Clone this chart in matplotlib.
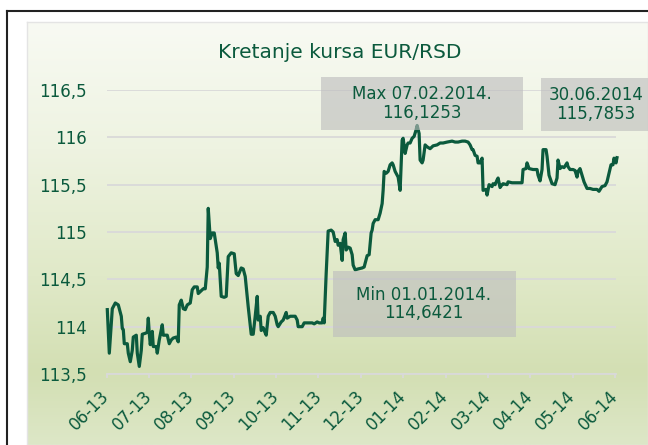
import numpy as np
import matplotlib
matplotlib.use('Agg')
import matplotlib.pyplot as plt
from matplotlib.colors import LinearSegmentedColormap
from matplotlib.patches import Rectangle
from matplotlib.lines import Line2D

matplotlib.rcParams['font.family'] = ['DejaVu Sans']
matplotlib.rcParams['font.size'] = 12

# Kurs EUR/RSD, redni broj posmatranja i vrednost (jun 2013 - jun 2014)
dani = [0, 2, 5, 8, 11, 14, 15, 16, 17, 20, 21, 23, 25, 26, 29, 30, 31, 32, 34, 35,
        38, 40, 41, 42, 43, 45, 46, 49, 50, 52, 55, 56, 60, 62, 64, 66, 69, 71, 72, 74,
        76, 78, 80, 83, 85, 87, 90, 91, 93, 96, 98, 100, 101, 103, 105, 107, 110, 111, 112, 114,
        117, 119, 121, 124, 127, 129, 131, 134, 136, 138, 140, 141, 144, 146, 148, 150, 151, 153, 154, 156,
        157, 159, 161, 163, 166, 168, 170, 171, 174, 176, 179, 180, 183, 188, 190, 191, 195, 197, 201, 205,
        207, 210, 212, 215, 216, 217, 219, 221, 224, 226, 228, 230, 231, 233, 235, 236, 238, 239, 241, 243,
        245, 246, 248, 251, 255, 257, 260, 262, 264, 265, 266, 268, 271, 273, 275, 276, 277, 279, 281, 283,
        285, 286, 288, 290, 291, 293, 295, 296, 298, 300, 301, 303, 305, 307, 309, 310, 312, 313, 315, 316,
        318, 320, 323, 326, 330, 333, 336, 340, 345, 348, 351, 355, 358, 361, 363, 365, 366, 368, 370, 371,
        373, 375, 376, 379, 380, 382, 385, 386, 388, 390, 391, 393, 395, 396, 400, 401, 405, 408, 411, 415,
        416, 419, 420, 422, 426, 430, 431, 433, 435, 436, 439, 440, 442, 445, 448, 450, 451, 453, 455, 457,
        460, 461, 463, 466, 468, 470, 471, 473, 475, 477, 480, 483, 486, 490, 492, 495, 498, 500, 502, 504,
        506, 507, 509, 510]
kurs = [114.18, 113.72, 114.19, 114.25, 114.23, 114.11, 113.98, 113.97, 113.82, 113.82,
        113.72, 113.63, 113.75, 113.89, 113.91, 113.72, 113.65, 113.58, 113.75, 113.92,
        113.93, 113.94, 114.09, 113.93, 113.81, 113.95, 113.79, 113.79, 113.72, 113.86,
        114.02, 113.91, 113.91, 113.82, 113.86, 113.88, 113.89, 113.84, 114.23, 114.28,
        114.19, 114.18, 114.23, 114.25, 114.39, 114.42, 114.42, 114.35, 114.37, 114.40,
        114.40, 114.63, 115.25, 114.93, 114.99, 114.99, 114.78, 114.62, 114.67, 114.32,
        114.31, 114.32, 114.74, 114.78, 114.77, 114.56, 114.54, 114.62, 114.61, 114.53,
        114.32, 114.21, 113.92, 113.92, 114.11, 114.32, 114.07, 114.11, 113.96, 113.99,
        113.96, 113.91, 114.11, 114.15, 114.15, 114.11, 114.02, 114.00, 114.05, 114.07,
        114.15, 114.09, 114.11, 114.11, 114.07, 114.00, 114.00, 114.04, 114.04, 114.04,
        114.03, 114.05, 114.04, 114.04, 114.09, 114.04, 114.56, 115.01, 115.02, 115.00,
        114.90, 114.92, 114.86, 114.88, 114.70, 114.92, 114.99, 114.81, 114.84, 114.83,
        114.76, 114.65, 114.60, 114.61, 114.62, 114.63, 114.75, 114.76, 114.99, 115.02,
        115.09, 115.13, 115.13, 115.20, 115.30, 115.44, 115.64, 115.62, 115.64, 115.71,
        115.73, 115.71, 115.64, 115.60, 115.58, 115.44, 115.97, 115.99, 115.83, 115.92,
        115.94, 115.94, 115.99, 116.01, 116.08, 116.1253, 116.04, 115.76, 115.73, 115.76,
        115.92, 115.90, 115.88, 115.91, 115.92, 115.94, 115.94, 115.95, 115.96, 115.95,
        115.95, 115.96, 115.96, 115.95, 115.92, 115.87, 115.87, 115.81, 115.80, 115.73,
        115.73, 115.78, 115.44, 115.45, 115.39, 115.50, 115.48, 115.51, 115.50, 115.55,
        115.57, 115.47, 115.50, 115.51, 115.50, 115.53, 115.52, 115.52, 115.52, 115.52,
        115.66, 115.67, 115.73, 115.67, 115.66, 115.66, 115.60, 115.54, 115.66, 115.87,
        115.87, 115.80, 115.60, 115.51, 115.50, 115.57, 115.76, 115.67, 115.69, 115.68,
        115.73, 115.69, 115.66, 115.66, 115.65, 115.58, 115.64, 115.67, 115.60, 115.53,
        115.46, 115.46, 115.45, 115.45, 115.43, 115.48, 115.49, 115.53, 115.62, 115.71,
        115.71, 115.78, 115.73, 115.7853]

meseci = ['06-13', '07-13', '08-13', '09-13', '10-13', '11-13', '12-13',
          '01-14', '02-14', '03-14', '04-14', '05-14', '06-14']
y_ticks = [113.5, 114, 114.5, 115, 115.5, 116, 116.5]

NASLOV = 'Kretanje kursa EUR/RSD'
MAX_TEXT = 'Max 07.02.2014.\n116,1253'
MIN_TEXT = 'Min 01.01.2014.\n114,6421'
KRAJ_TEXT = '30.06.2014\n115,7853'

ZELENA = '#0b5a3d'
SIVA = '#d9d9d9'

W, H = 648, 445
fig = plt.figure(figsize=(W / 100, H / 100), dpi=100)
fig.patch.set_facecolor('white')

# pozadina sa gradijentom
bg = fig.add_axes([27 / W, 0, 1 - 27 / W, 1 - 22 / H], zorder=-5)
cmap = LinearSegmentedColormap.from_list('bg', [
    (0.0, '#f8faf3'), (0.3, '#eef3e1'), (0.6, '#e0e9c8'),
    (0.83, '#d3dfb3'), (1.0, '#dde7c7')])
bg.imshow(np.linspace(0, 1, 256).reshape(-1, 1), aspect='auto', cmap=cmap,
          extent=[0, 1, 0, 1])
bg.set_xticks([])
bg.set_yticks([])
for s in bg.spines.values():
    s.set_color('#e4e4e4')
    s.set_linewidth(1.0)

# spoljni okvir
fig.add_artist(Line2D([7 / W, 7 / W], [0, 1 - 11 / H], color='#222222', lw=1.5))
fig.add_artist(Line2D([7 / W, 1], [1 - 11 / H, 1 - 11 / H], color='#222222', lw=1.5))

ax = fig.add_axes([106.6 / W, 1 - 374 / H, (616 - 106.6) / W, 284 / H])
ax.patch.set_alpha(0)
ax.plot(dani, kurs, color=ZELENA, lw=2.3, clip_on=False, zorder=3,
        solid_joinstyle='round')

ax.set_xlim(-0.7, 509)
ax.set_ylim(113.5, 116.5)
ax.set_yticks(y_ticks)
ax.set_yticklabels([f'{v:g}'.replace('.', ',') for v in y_ticks])
ax.set_xticks(np.linspace(-0.7, 508.1, 13))
ax.set_xticklabels(meseci, rotation=45, ha='right', va='center',
                   rotation_mode='anchor')
ax.grid(axis='y', color=SIVA, lw=1.3)
ax.set_axisbelow(True)
for k in ['top', 'right', 'left']:
    ax.spines[k].set_visible(False)
ax.spines['bottom'].set_color(SIVA)
ax.spines['bottom'].set_linewidth(1.3)
ax.tick_params(axis='y', length=0, pad=14, colors=ZELENA, labelsize=12)
ax.tick_params(axis='x', length=3, width=1.3, color=SIVA, pad=11,
               labelcolor=ZELENA, labelsize=12)

fig.text(340 / W, 1 - 53 / H, NASLOV, ha='center', va='center',
         fontsize=14.5, color=ZELENA)


def okvir(x0, y0, x1, y1, tekst, tx):
    fig.patches.append(Rectangle((x0 / W, 1 - y1 / H), (x1 - x0) / W, (y1 - y0) / H,
                                 transform=fig.transFigure, facecolor='#bdbdbd',
                                 alpha=0.62, edgecolor='none', zorder=2))
    fig.text(tx / W, 1 - (y0 + y1) / 2 / H, tekst, ha='center', va='center',
             color=ZELENA, fontsize=12, linespacing=1.05, zorder=4)


okvir(321, 77, 523, 130, MAX_TEXT, 422)
okvir(541, 78, 660, 131, KRAJ_TEXT, 596)
okvir(333, 271, 516, 337, MIN_TEXT, 424)

fig.savefig('out.png', dpi=100)
